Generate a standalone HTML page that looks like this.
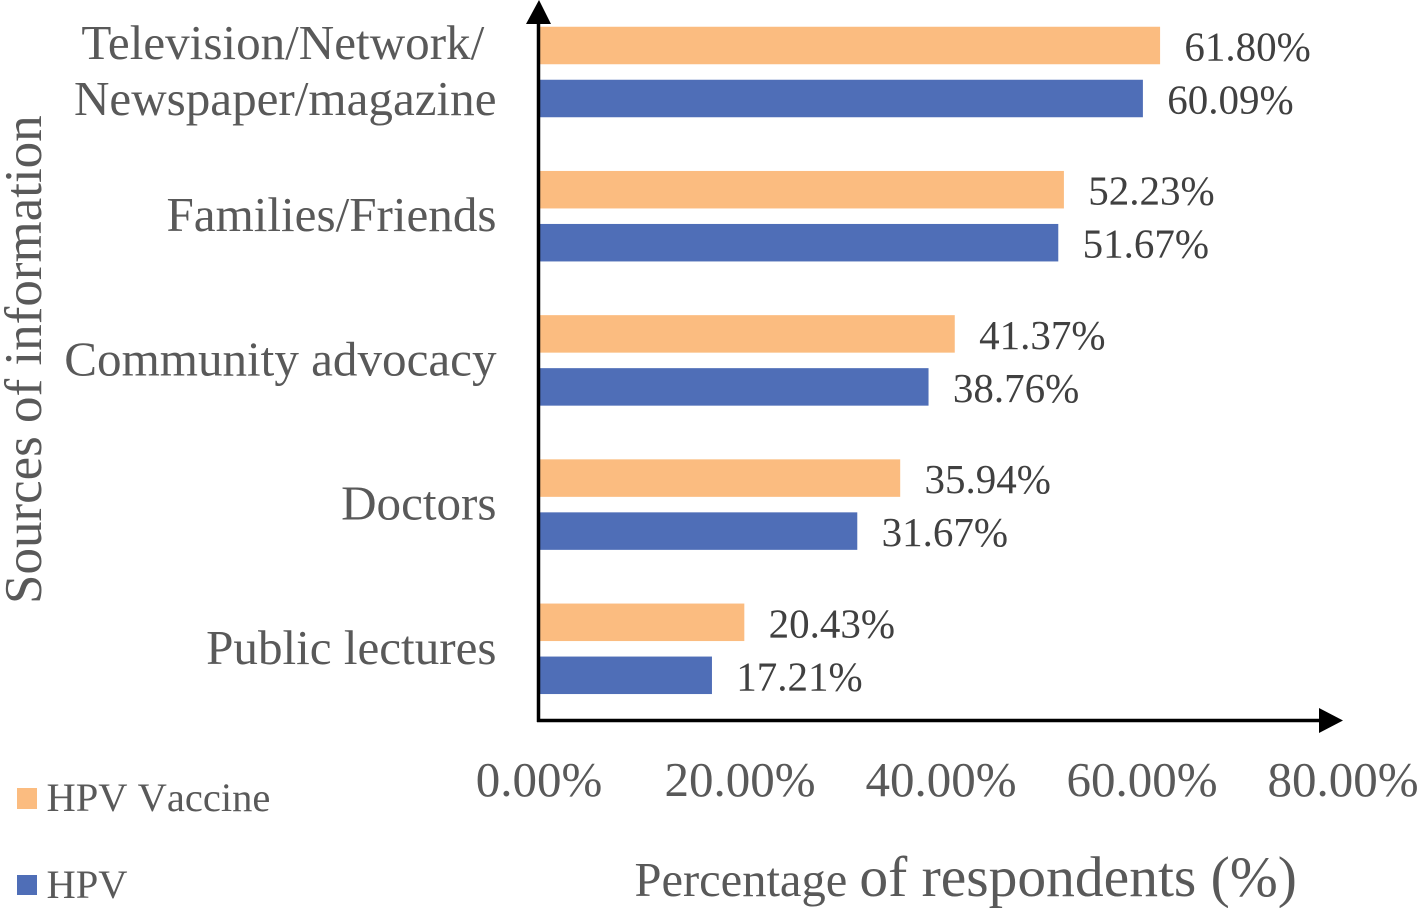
<!DOCTYPE html>
<html lang="en">
<head>
<meta charset="utf-8">
<title>Sources of information on HPV and HPV vaccine</title>
<style>
  html, body { margin: 0; padding: 0; background: #fff; }
  svg { display: block; }
  text { font-family: "Liberation Serif", serif; fill: #595959; }
</style>
</head>
<body>
<svg id="chart" xmlns="http://www.w3.org/2000/svg" width="1421" height="908" viewBox="0 0 1421 908">
  <rect x="0" y="0" width="1421" height="908" fill="#ffffff"/>
  <g id="bars"></g>
  <g id="value-labels"></g>
  <g id="category-labels"></g>
  <g id="x-ticks"></g>

  <line x1="538.5" y1="20" x2="538.5" y2="722" stroke="#000" stroke-width="3.5"/>
  <polygon points="539,0 551,24 526,24" fill="#000"/>
  <line x1="537" y1="720.5" x2="1322" y2="720.5" stroke="#000" stroke-width="3.5"/>
  <polygon points="1343,720.5 1319,708 1319,733" fill="#000"/>

  <text transform="translate(41,604) rotate(-90)" font-size="53">Sources of information</text>
  <text x="634.5" y="896"><tspan font-size="48.5">Percentage </tspan><tspan font-size="57.5">of respondents (%)</tspan></text>

  <rect x="17" y="788" width="20" height="21" fill="#FBBC80"/>
  <text x="46.5" y="811" font-size="40.5" style="font-kerning:none">HPV Vaccine</text>
  <rect x="17" y="875" width="20" height="20" fill="#4F6EB7"/>
  <text x="46.5" y="898" font-size="40.5">HPV</text>
</svg>
<script>
const categories = [
  ["Television/Network/\u00a0", "Newspaper/magazine"],
  ["Families/Friends"],
  ["Community advocacy"],
  ["Doctors"],
  ["Public lectures"]
];
const hpvVaccineValues = [61.80, 52.23, 41.37, 35.94, 20.43];
const hpvValues = [60.09, 51.67, 38.76, 31.67, 17.21];
const xTickValues = [0, 20, 40, 60, 80];

const NS = "http://www.w3.org/2000/svg";
const xZero = 539;
const xPerUnit = 10.05;
const firstBandCenter = 72;
const bandStep = 144.2;
const barHeight = 37.5;
const barOffset = 26.5;

function xScale(v) { return xZero + v * xPerUnit; }
function bandCenter(i) { return firstBandCenter + i * bandStep; }

const barsGroup = document.getElementById("bars");
const valuesGroup = document.getElementById("value-labels");
const categoriesGroup = document.getElementById("category-labels");
const ticksGroup = document.getElementById("x-ticks");

function drawSeries(values, color, offset, seriesName) {
  values.forEach(function (v, i) {
    const cy = bandCenter(i) + offset;
    const rect = document.createElementNS(NS, "rect");
    rect.setAttribute("x", xZero);
    rect.setAttribute("y", cy - barHeight / 2);
    rect.setAttribute("width", xScale(v) - xZero);
    rect.setAttribute("height", barHeight);
    rect.setAttribute("fill", color);
    
    
    barsGroup.appendChild(rect);

    const label = document.createElementNS(NS, "text");
    label.setAttribute("x", xScale(v) + 24.3);
    label.setAttribute("y", cy + 15);
    label.setAttribute("font-size", "41");
    label.style.fill = "#404040";
    label.textContent = v.toFixed(2) + "%";
    
    
    valuesGroup.appendChild(label);
  });
}

drawSeries(hpvVaccineValues, "#FBBC80", -barOffset, "hpv-vaccine");
drawSeries(hpvValues, "#4F6EB7", barOffset, "hpv");

categories.forEach(function (lines, i) {
  lines.forEach(function (line, j) {
    const t = document.createElementNS(NS, "text");
    const y = lines.length === 1
      ? bandCenter(i) + 15
      : bandCenter(i) + 15 + (j - (lines.length - 1) / 2) * 56;
    t.setAttribute("x", 496.5);
    t.setAttribute("y", y);
    t.setAttribute("text-anchor", "end");
    t.setAttribute("font-size", "49.1");
    t.setAttribute("xml:space", "preserve");
    t.textContent = line;
    
    
    categoriesGroup.appendChild(t);
  });
});

xTickValues.forEach(function (v, i) {
  const t = document.createElementNS(NS, "text");
  t.setAttribute("x", xScale(v));
  t.setAttribute("y", 796);
  t.setAttribute("text-anchor", "middle");
  t.setAttribute("font-size", "49");
  t.textContent = v.toFixed(2) + "%";
  
  
  ticksGroup.appendChild(t);
});
</script>
</body>
</html>
